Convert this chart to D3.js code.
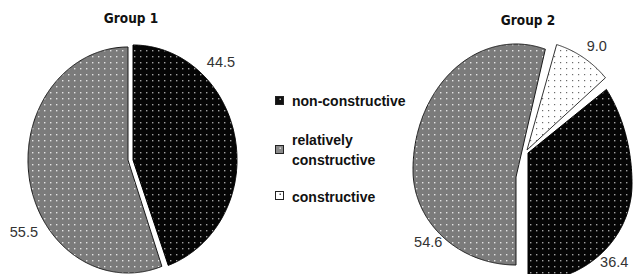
<!DOCTYPE html>
<html>
<head>
<meta charset="utf-8">
<script src="https://cdn.jsdelivr.net/npm/d3@7"></script>
<style>
  body { margin: 0; background: #fff; }
  svg { display: block; }
</style>
</head>
<body>
<div class="pie-chart"></div>
<script>
// chart values
var groups = ["Group 1", "Group 2"];
var categories = ["non-constructive", "relatively constructive", "constructive"];
var group1Values = [44.5, 55.5, 0];
var group2Values = [36.4, 54.6, 9.0];
var valueLabels = [["44.5", "55.5", ""], ["36.4", "54.6", "9.0"]];

var W = 634, H = 274;

// geometry of every slice (it is distorted,
// so each slice gets its own ellipse: centre, rx, ry above / below centre, apex)
var SLICES = [
  [ { c: [133, 160], rx: 104, ryT: 115, ryB: 112, apex: [133, 160], lab: [44.8, 1.2] },
    { c: [128, 160], rx: 100, ryT: 113, ryB: 113, apex: [128, 160], lab: [238.6, 1.22] },
    null ],
  [ { c: [528, 184], rx: 104, ryT: 144, ryB: 98, apex: [528, 153], lab: [133.9, 1.15] },
    { c: [516, 170], rx: 103, ryT: 126, ryB: 95, apex: [516, 177], lab: [228.4, 1.14] },
    { c: [527, 150], rx: 104, ryT: 110, ryB: 110, apex: [527, 150], lab: [35.3, 1.16] } ]
];
var TITLES = [[131, 23], [528, 25]];

var fills = ["url(#pat-black)", "url(#pat-gray)", "url(#pat-white)"];
var strokes = ["#000", "#1a1a1a", "#333"];

var svg = d3.select(".pie-chart").append("svg")
  .attr("width", W)
  .attr("height", H);

// dotted fills
var defs = svg.append("defs");
function dotPattern(id, bg, dot, size) {
  var p = defs.append("pattern")
    .attr("id", id)
    .attr("patternUnits", "userSpaceOnUse")
    .attr("width", 6).attr("height", 6);
  p.append("rect").attr("width", 6).attr("height", 6).attr("fill", bg);
  p.append("rect").attr("x", 2).attr("y", 2)
    .attr("width", size).attr("height", size).attr("fill", dot);
}
dotPattern("pat-black", "#050505", "#a0a0a0", 1.4);
dotPattern("pat-gray", "#7b7b7b", "#e4e4e4", 1.4);
dotPattern("pat-white", "#ffffff", "#6a6a6a", 1.2);

// point on a slice ellipse, angle clockwise from 12 o'clock
function pointOn(s, a, f) {
  var ry = Math.cos(a) > 0 ? s.ryT : s.ryB;
  return [s.c[0] + Math.sin(a) * s.rx * f, s.c[1] - Math.cos(a) * ry * f];
}

var line = d3.line().curve(d3.curveLinearClosed);
var pie = d3.pie().sort(null).value(function (d) { return d; });
var allValues = [group1Values, group2Values];
var startAngles = [0, Math.PI - group2Values[0] / d3.sum(group2Values) * 2 * Math.PI];

allValues.forEach(function (values, gi) {
  var start = startAngles[gi];
  var arcs = pie.startAngle(start).endAngle(start + 2 * Math.PI)(values)
    .filter(function (d) { return d.value > 0; });

  var g = svg.append("g");

  g.selectAll("path.slice")
    .data(arcs)
    .enter().append("path")
    .attr("class", "slice")
    .attr("d", function (d) {
      var s = SLICES[gi][d.index];
      var pts = [s.apex];
      var steps = Math.ceil((d.endAngle - d.startAngle) / 0.01);
      d3.range(steps + 1).forEach(function (k) {
        pts.push(pointOn(s, d.startAngle + (d.endAngle - d.startAngle) * k / steps, 1));
      });
      return line(pts);
    })
    .attr("fill", function (d) { return fills[d.index]; })
    .attr("stroke", function (d) { return strokes[d.index]; })
    .attr("stroke-width", 1);

  // value labels
  g.selectAll("text.val")
    .data(arcs)
    .enter().append("text")
    .attr("class", "val")
    .attr("transform", function (d) {
      var s = SLICES[gi][d.index];
      var p = pointOn(s, s.lab[0] * Math.PI / 180, s.lab[1]);
      return "translate(" + p[0] + "," + p[1] + ")";
    })
    .attr("dy", "0.36em")
    .attr("text-anchor", "middle")
    .attr("font-family", "'Liberation Sans', Arial, sans-serif")
    .attr("font-size", 14.5)
    .attr("fill", "#333")
    .text(function (d) { return valueLabels[gi][d.index]; });

  g.append("text")
    .attr("x", TITLES[gi][0])
    .attr("y", TITLES[gi][1])
    .attr("text-anchor", "middle")
    .attr("font-family", "'DejaVu Sans Condensed', 'DejaVu Sans', sans-serif")
    .attr("font-weight", "bold")
    .attr("font-size", 13.5)
    .attr("fill", "#111")
    .text(groups[gi]);
});

// legend
var legendLines = [["non-constructive"], ["relatively", "constructive"], ["constructive"]];
var legendTextY = [106, 145, 202];
var legendMarkY = [101, 150, 196];
var markFill = ["#111", "#8a8a8a", "#fff"];
var markDot = ["#bbb", "#ddd", "#555"];

var legend = svg.append("g").attr("class", "legend");
categories.forEach(function (c, i) {
  legend.append("rect")
    .attr("x", 275.5).attr("y", legendMarkY[i] - 4.5)
    .attr("width", 8).attr("height", 8)
    .attr("fill", markFill[i])
    .attr("stroke", "#222");
  legend.append("rect")
    .attr("x", 279.5).attr("y", legendMarkY[i] - 2.5)
    .attr("width", 1.5).attr("height", 1.5)
    .attr("fill", markDot[i]);
  var t = legend.append("text")
    .attr("x", 292)
    .attr("y", legendTextY[i])
    .attr("font-family", "'Liberation Sans', Arial, sans-serif")
    .attr("font-weight", "bold")
    .attr("font-size", 14)
    .attr("fill", "#111");
  legendLines[i].forEach(function (txt, k) {
    t.append("tspan")
      .attr("x", 292)
      .attr("dy", k === 0 ? 0 : 20)
      .text(txt);
  });
});
</script>
</body>
</html>
